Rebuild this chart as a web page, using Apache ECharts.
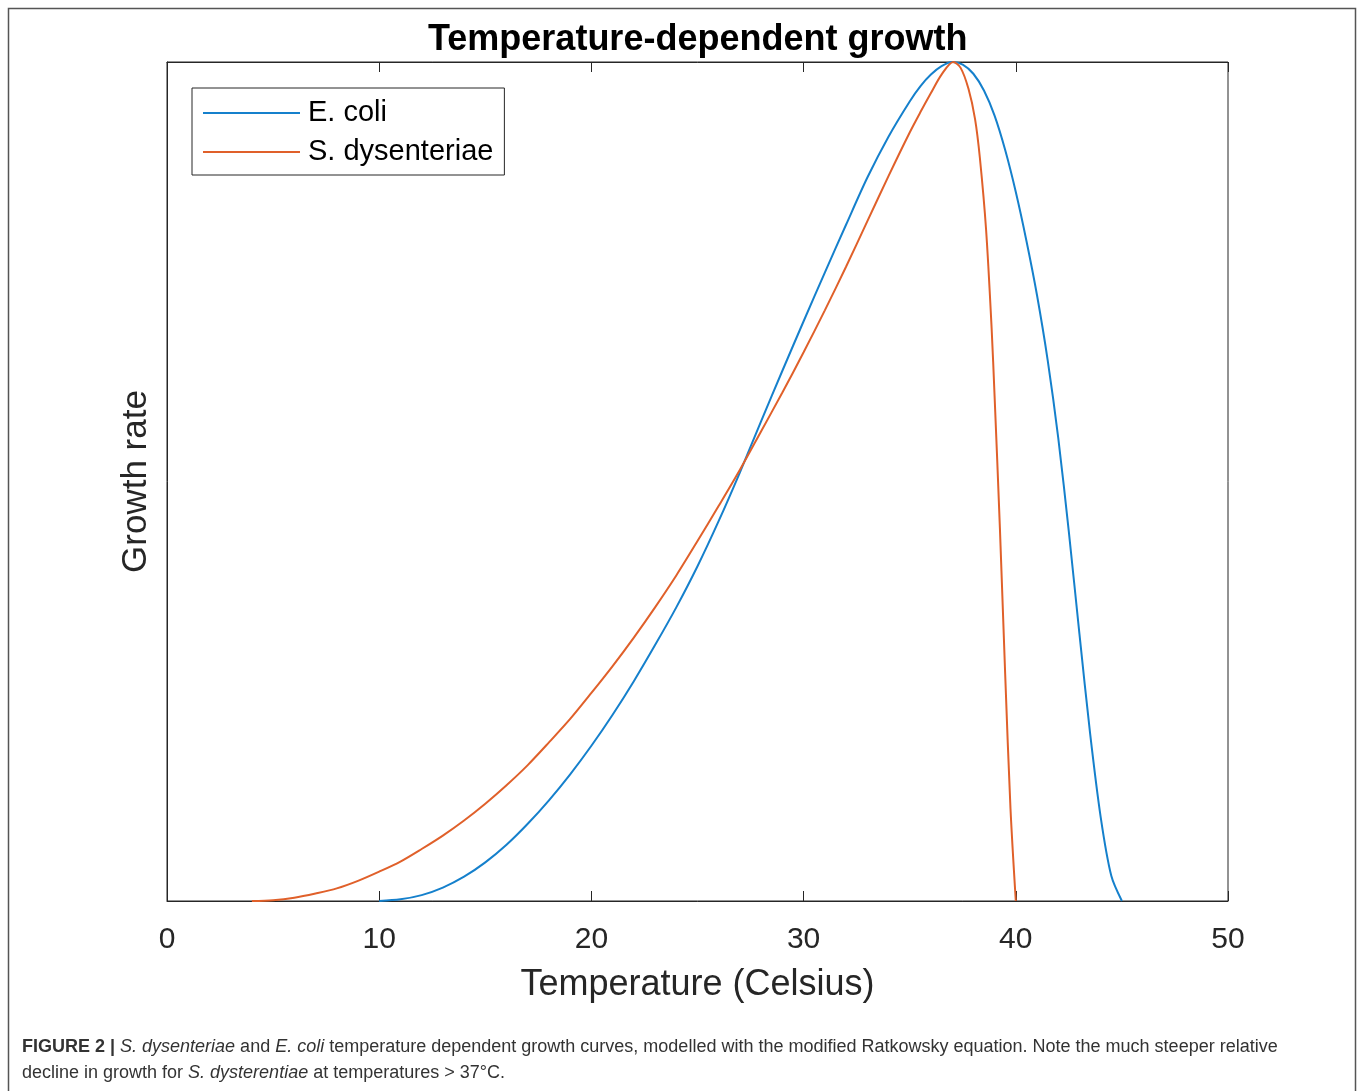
<!DOCTYPE html>
<html>
<head>
<meta charset="utf-8">
<title>Temperature-dependent growth</title>
<script src="https://cdn.jsdelivr.net/npm/echarts@6/dist/echarts.min.js"></script>
<style>
  html, body { margin: 0; padding: 0; background: #fff; }
  #chart { width: 1360px; height: 1091px; }
</style>
</head>
<body>
<div id="chart"></div>
<script>
// values (growth rate scaled so the peak is 1)
const ecoliTemp = [10, 11, 12, 13, 14, 15, 16, 17, 18, 19, 20, 21, 22, 23, 24, 25, 26, 27, 28, 29,
  30, 31, 32, 33, 34, 35, 35.5, 36, 36.5, 37, 37.5, 38, 38.5, 39, 39.5, 40, 40.5, 41, 41.5, 42, 42.5,
  43, 43.5, 44, 44.5, 45];
const ecoliRate = [0, 0.002, 0.007, 0.016, 0.029, 0.046, 0.067, 0.092, 0.12, 0.151, 0.185, 0.222,
  0.262, 0.305, 0.35, 0.399, 0.453, 0.511, 0.572, 0.632, 0.691, 0.749, 0.806, 0.862, 0.911, 0.953,
  0.971, 0.985, 0.995, 1, 0.997, 0.986, 0.966, 0.936, 0.895, 0.845, 0.787, 0.722, 0.645, 0.552, 0.44,
  0.318, 0.2, 0.1, 0.03, 0];

const shigTemp = [4, 5, 6, 7, 8, 9, 10, 11, 12, 13, 14, 15, 16, 17, 18, 19, 20, 21, 22, 23, 24, 25,
  26, 27, 28, 29, 30, 31, 32, 33, 34, 35, 35.5, 36, 36.5, 37.05, 37.4, 37.77, 38.08, 38.31, 38.6,
  38.86, 39, 39.25, 39.5, 39.75, 40];
const shigRate = [0, 0.001, 0.004, 0.009, 0.015, 0.024, 0.035, 0.047, 0.062, 0.078, 0.096, 0.116,
  0.138, 0.162, 0.189, 0.217, 0.248, 0.28, 0.314, 0.35, 0.388, 0.429, 0.471, 0.514, 0.56, 0.606,
  0.654, 0.704, 0.756, 0.81, 0.864, 0.916, 0.94, 0.963, 0.985, 1, 0.993, 0.968, 0.932, 0.885, 0.8,
  0.683, 0.602, 0.445, 0.27, 0.11, 0];

const xTicks = [0, 10, 20, 30, 40, 50];

const chart = echarts.init(document.getElementById('chart'));

const axisColor = '#262626';
const sans = '"Liberation Sans", Arial, Helvetica, sans-serif';

const option = {
  backgroundColor: '#fff',
  animation: false,
  title: {
    text: 'Temperature-dependent growth',
    left: 428,
    top: 22,
    padding: 0,
    textStyle: {
      fontFamily: sans,
      fontSize: 36,
      fontWeight: 'bold',
      color: '#000',
    },
  },
  legend: {
    orient: 'vertical',
    left: 192,
    top: 88,
    padding: [10, 11, 8, 11],
    borderColor: axisColor,
    borderWidth: 1,
    backgroundColor: '#fff',
    itemWidth: 97,
    itemHeight: 2,
    itemGap: 9,
    icon: 'rect',
    textStyle: {
      fontFamily: sans,
      fontSize: 29,
      color: '#000',
      lineHeight: 30,
      padding: [0, 0, 0, 3],
    },
    data: ['E. coli', 'S. dysenteriae'],
  },
  grid: {
    left: 167,
    right: 132,
    top: 62,
    bottom: 190,
    show: true,
    borderColor: axisColor,
    borderWidth: 1,
  },
  xAxis: [
    {
      type: 'value',
      min: xTicks[0],
      max: xTicks[xTicks.length - 1],
      interval: 10,
      name: 'Temperature (Celsius)',
      nameLocation: 'middle',
      nameGap: 66,
      nameTextStyle: { fontFamily: sans, fontSize: 36, color: axisColor },
      axisLine: { show: true, lineStyle: { color: axisColor, width: 1 } },
      axisTick: { show: true, inside: true, length: 10, lineStyle: { color: axisColor } },
      axisLabel: { fontFamily: sans, fontSize: 30, color: axisColor, margin: 24 },
      splitLine: { show: false },
    },
    {
      type: 'value',
      position: 'top',
      min: xTicks[0],
      max: xTicks[xTicks.length - 1],
      interval: 10,
      axisLine: { show: true, lineStyle: { color: axisColor, width: 1 } },
      axisTick: { show: true, inside: true, length: 10, lineStyle: { color: axisColor } },
      axisLabel: { show: false },
      splitLine: { show: false },
    },
  ],
  yAxis: {
    type: 'value',
    min: 0,
    max: 1,
    name: 'Growth rate',
    nameLocation: 'middle',
    nameRotate: 90,
    nameGap: 13,
    nameTextStyle: { fontFamily: sans, fontSize: 35, color: axisColor },
    axisLine: { show: true, lineStyle: { color: axisColor } },
    axisTick: { show: false },
    axisLabel: { show: false },
    splitLine: { show: false },
  },
  series: [
    {
      name: 'E. coli',
      type: 'line',
      symbol: 'none',
      smooth: 0.3,
      data: ecoliTemp.map((t, i) => [t, ecoliRate[i]]),
      itemStyle: { color: '#1580cc' },
      lineStyle: { color: '#1580cc', width: 2 },
      z: 5,
    },
    {
      name: 'S. dysenteriae',
      type: 'line',
      symbol: 'none',
      smooth: 0.3,
      data: shigTemp.map((t, i) => [t, shigRate[i]]),
      itemStyle: { color: '#e0602a' },
      lineStyle: { color: '#e0602a', width: 2 },
      z: 6,
    },
  ],
  graphic: [
    {
      type: 'rect',
      shape: { x: 8.5, y: 8.5, width: 1347, height: 1200 },
      style: { fill: 'none', stroke: '#555', lineWidth: 1.5 },
      silent: true,
    },
    {
      type: 'text',
      left: 22,
      top: 1034,
      style: {
        text: '{b|FIGURE 2 |} {i|S. dysenteriae} and {i|E. coli} temperature dependent growth curves, modelled with the modified Ratkowsky equation. Note the much steeper relative\n' +
          'decline in growth for {i|S. dysterentiae} at temperatures > 37°C.',
        fontFamily: sans,
        fontSize: 18,
        lineHeight: 26,
        fill: '#333',
        rich: {
          b: { fontWeight: 'bold', fontFamily: sans, fontSize: 18, fill: '#333' },
          i: { fontStyle: 'italic', fontFamily: sans, fontSize: 18, fill: '#333' },
        },
      },
    },
  ],
};

chart.setOption(option);
window.addEventListener('resize', () => chart.resize());
</script>
</body>
</html>
